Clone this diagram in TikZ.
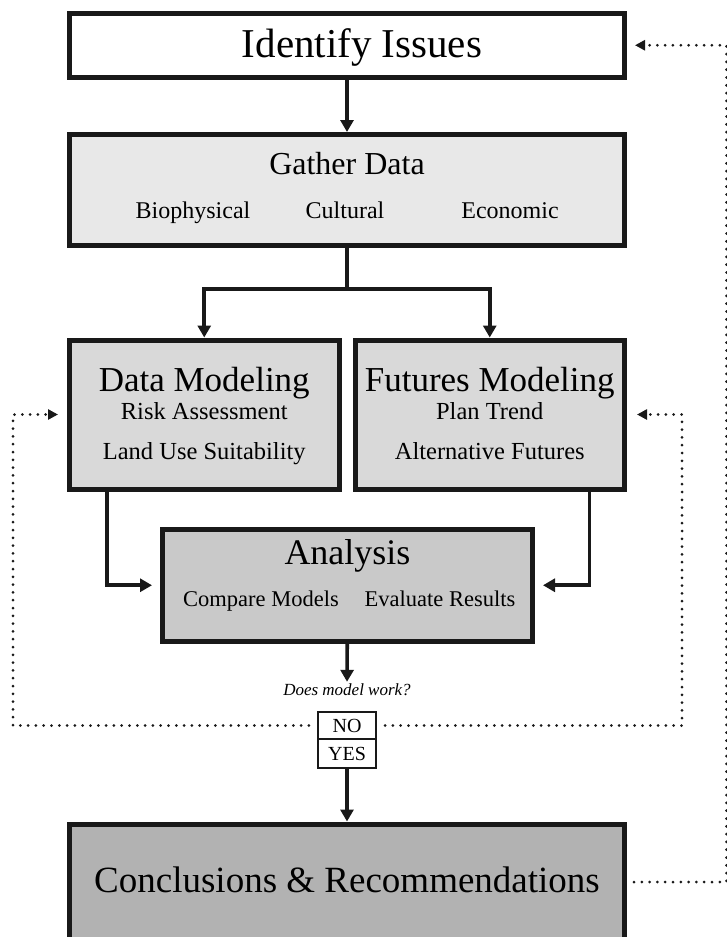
\documentclass[tikz,border=0pt]{standalone}
\usepackage{fontspec}
\setmainfont{Liberation Serif}
\usetikzlibrary{arrows.meta,calc,positioning}
\definecolor{ink}{gray}{0.1}
\definecolor{gatherfill}{gray}{0.91}
\definecolor{modelfill}{gray}{0.85}
\definecolor{analysisfill}{gray}{0.79}
\definecolor{conclfill}{gray}{0.70}

\begin{document}
\begin{tikzpicture}[x=1pt,y=-1pt,line join=miter,
  box/.style={draw=ink,line width=5pt,inner sep=0pt},
  tinybox/.style={draw=ink,line width=2.2pt,inner sep=0pt,minimum width=58,fill=white,font=\fontsize{20}{22}\selectfont},
  ttl/.style={anchor=base,inner sep=0pt},
  line/.style={draw=ink,line width=3.6pt},
  arr/.style={line,-{Triangle[length=12pt,width=13pt]}},
  loop/.style={draw=ink,line width=3pt,line cap=round,dash pattern=on 0pt off 7.8pt,-{Triangle[length=10pt,width=10pt]}}]
\useasboundingbox (0,0) rectangle (726,937);
% boxes
\node[box,minimum width=555,minimum height=64.5] (issues) at (347,45.25) {};
\node[box,fill=gatherfill,minimum width=555,minimum height=110.5] (gather) at (347,189.75) {};
\node[box,fill=modelfill,minimum width=269.5,minimum height=149] (datamod) at (204.25,414.5) {};
\node[box,fill=modelfill,minimum width=269.5,minimum height=149] (futmod) at (489.75,414.5) {};
\node[box,fill=analysisfill,minimum width=370,minimum height=111.5] (analysis) at (347.5,585.25) {};
\node[box,fill=conclfill,minimum width=555,minimum height=116] (concl) at (347,882) {};
\node[tinybox,minimum height=27] (no) at (347,725.5) {NO};
\node[tinybox,minimum height=29] (yes) at (347,753.5) {YES};
% texts
\node[ttl,font=\fontsize{41}{45}\selectfont] at (362,57) {Identify Issues};
\node[ttl,font=\fontsize{32}{36}\selectfont] at (347,174) {Gather Data};
\foreach \t/\x in {Biophysical/193,Cultural/345,Economic/510}{\node[ttl,font=\fontsize{24}{28}\selectfont] at (\x,218) {\t};}
\node[ttl,font=\fontsize{35}{40}\selectfont] at (204.25,391) {Data Modeling};
\node[ttl,font=\fontsize{24.5}{28}\selectfont] at (204.25,419) {Risk Assessment};
\node[ttl,font=\fontsize{24.5}{28}\selectfont] at (204.25,459) {Land Use Suitability};
\node[ttl,font=\fontsize{35}{40}\selectfont] at (489.75,391) {Futures Modeling};
\node[ttl,font=\fontsize{24.5}{28}\selectfont] at (489.75,419) {Plan Trend};
\node[ttl,font=\fontsize{24.5}{28}\selectfont] at (489.75,459) {Alternative Futures};
\node[ttl,font=\fontsize{36}{40}\selectfont] at (347.5,564) {Analysis};
\node[ttl,font=\fontsize{22.5}{26}\selectfont] at (261,606) {Compare Models};
\node[ttl,font=\fontsize{22.5}{26}\selectfont] at (440,606) {Evaluate Results};
\node[font=\fontsize{17}{20}\selectfont\itshape,inner sep=2pt] (ask) at (347,690) {Does model work?};
\node[ttl,font=\fontsize{37}{42}\selectfont] at (347,892) {Conclusions \& Recommendations};
% connectors
\coordinate (split) at (347,289);
\coordinate (lc) at (13,414.5);
\coordinate (rc) at (682,414.5);
\coordinate (oc) at (726.5,45.25);
\draw[arr] (issues) -- (gather);
\draw[line] (gather) -- (split);
\draw[arr] (split) -| (datamod.north);
\draw[arr] (split) -| (futmod.north);
\draw[arr,shorten >=8pt] ([xshift=40pt]datamod.south west) |- (analysis.west);
\draw[arr,shorten >=8pt] ([xshift=-37.5pt]futmod.south east) |- (analysis.east);
\draw[arr] (analysis) -- (ask);
\draw[arr] (yes) -- (concl);
\draw[loop,shorten <=8pt,shorten >=9pt] (no.west) -| (lc) -- (datamod.west);
\draw[loop,shorten <=8pt,shorten >=10pt] (no.east) -| (rc) -- (futmod.east);
\draw[loop,shorten <=7pt,shorten >=8pt] (concl.east) -| (oc) -- (issues.east);
\end{tikzpicture}
\end{document}
